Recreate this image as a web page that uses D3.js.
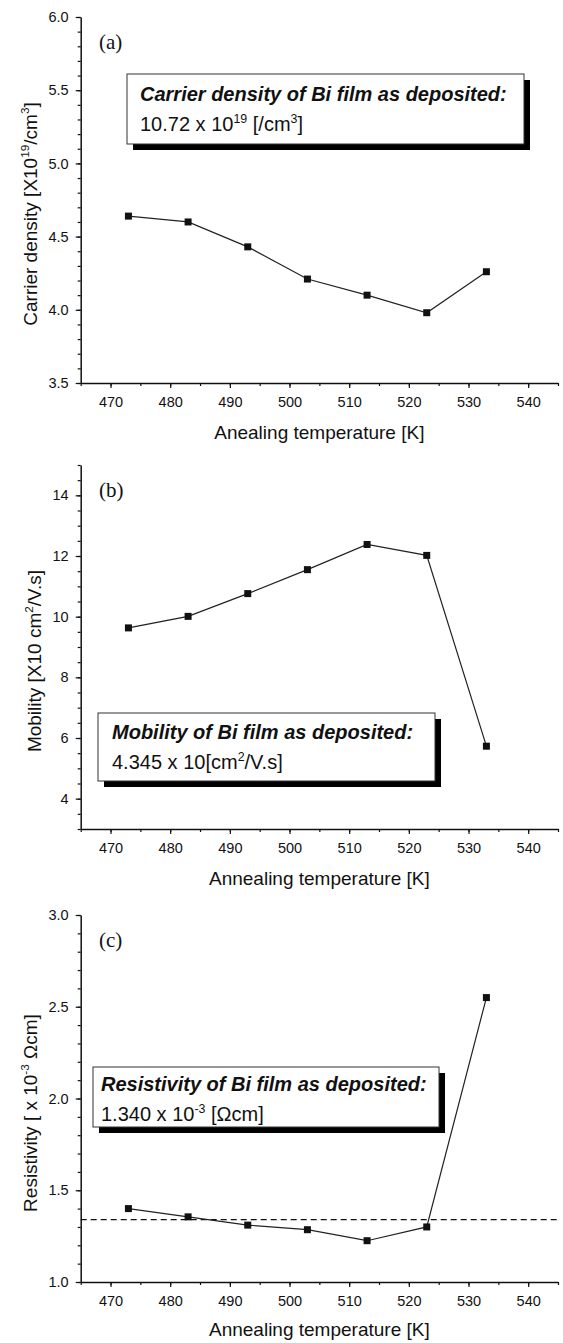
<!DOCTYPE html>
<html>
<head>
<meta charset="utf-8">
<script src="https://cdn.jsdelivr.net/npm/d3@7"></script>
<style>
  body { margin: 0; background: #fff; }
  text { font-family: "Liberation Sans", Arial, Helvetica, sans-serif; fill: #111; }
</style>
</head>
<body>
<div id="chart"></div>
<script>
// valores
var temps = [473, 483, 493, 503, 513, 523, 533];
var xTicks = [470, 480, 490, 500, 510, 520, 530, 540];

var carrierDensity = [4.64, 4.60, 4.43, 4.21, 4.10, 3.98, 4.26];
var carrierTicks = [3.5, 4.0, 4.5, 5.0, 5.5, 6.0];

var mobility = [9.63, 10.01, 10.76, 11.55, 12.38, 12.02, 5.73];
var mobilityTicks = [4, 6, 8, 10, 12, 14];

var resistivity = [1.40, 1.355, 1.31, 1.285, 1.225, 1.30, 2.55];
var resistivityTicks = [1.0, 1.5, 2.0, 2.5, 3.0];
var resistivityDeposited = 1.340;

var W = 563, H = 1343;

var svg = d3.select("#chart").append("svg")
    .attr("width", W)
    .attr("height", H);

// escala x comun a los tres paneles
var x = d3.scaleLinear().domain([465, 545]).range([80.7, 558]);

// escribe texto con superindices: partes [texto, sup?]
function richText(sel, parts, size) {
  var up = size * 0.42;
  var wasUp = false;
  parts.forEach(function(p) {
    var ts = sel.append("tspan").text(p[0]);
    if (p[1]) {
      ts.attr("dy", -up).style("font-size", (size * 0.62) + "px");
    } else if (wasUp) {
      ts.attr("dy", up);
    }
    wasUp = !!p[1];
  });
}

function drawPanel(o) {
  var y = d3.scaleLinear().domain(o.yDomain).range(o.yRange);
  var g = svg.append("g");
  var y0 = o.yRange[0];

  // ticks menores
  g.append("g")
      .attr("transform", "translate(0," + y0 + ")")
      .call(d3.axisBottom(x).tickValues(d3.range(465, 546, 5)).tickSize(3).tickFormat(""))
      .call(function(a) { a.select(".domain").remove(); });
  g.append("g")
      .attr("transform", "translate(" + x.range()[0] + ",0)")
      .call(d3.axisLeft(y).tickValues(o.yMinor).tickSize(3).tickFormat(""))
      .call(function(a) { a.select(".domain").remove(); });

  // ejes principales
  g.append("g")
      .attr("transform", "translate(0," + y0 + ")")
      .call(d3.axisBottom(x).tickValues(xTicks).tickSize(5).tickSizeOuter(0).tickPadding(9));
  g.append("g")
      .attr("transform", "translate(" + x.range()[0] + ",0)")
      .call(d3.axisLeft(y).tickValues(o.yTicks).tickSize(5).tickSizeOuter(0).tickPadding(7)
            .tickFormat(o.yFormat));
  g.selectAll(".tick line").attr("stroke", "#111").attr("stroke-width", 1.2);
  g.selectAll(".domain").attr("stroke", "#111").attr("stroke-width", 1.5);
  g.selectAll(".tick text")
      .style("font-family", "'Liberation Sans', Arial, sans-serif")
      .style("font-size", "14.5px")
      .attr("fill", "#000");

  // titulo eje x
  g.append("text")
      .attr("x", (x.range()[0] + x.range()[1]) / 2)
      .attr("y", y0 + o.titleGap)
      .attr("text-anchor", "middle")
      .style("font-size", "19px")
      .text(o.xTitle);

  // titulo eje y
  var yt = g.append("text")
      .attr("transform", "translate(" + o.yTitleX + "," + o.yTitleY + ") rotate(-90)")
      .attr("text-anchor", "middle")
      .attr("dy", "0.35em")
      .style("font-size", "19px");
  richText(yt, o.yTitle, 19);

  // letra del panel
  g.append("text")
      .attr("x", 99)
      .attr("y", o.letterY)
      .style("font-family", "'Liberation Serif', 'Times New Roman', serif")
      .style("font-size", "21px")
      .text(o.letter);

  // linea de referencia
  if (o.refValue != null) {
    g.append("line")
        .attr("x1", x.range()[0]).attr("x2", x.range()[1])
        .attr("y1", y(o.refValue)).attr("y2", y(o.refValue))
        .attr("stroke", "#111")
        .attr("stroke-width", 1.1)
        .attr("stroke-dasharray", "6,4");
  }

  // cuadro de anotacion con sombra
  var b = o.box;
  g.append("rect")
      .attr("x", b.x + 6).attr("y", b.y + 6)
      .attr("width", b.w).attr("height", b.h)
      .attr("fill", "#000");
  g.append("rect")
      .attr("x", b.x).attr("y", b.y)
      .attr("width", b.w).attr("height", b.h)
      .attr("fill", "#fff")
      .attr("stroke", "#333")
      .attr("stroke-width", 1);
  g.append("text")
      .attr("x", b.tx).attr("y", b.b1)
      .style("font-size", "20px")
      .style("font-weight", "bold")
      .style("font-style", "italic")
      .text(o.boxTitle);
  var l2 = g.append("text")
      .attr("x", b.tx).attr("y", b.b2)
      .style("font-size", "20px");
  richText(l2, o.boxValue, 20);

  // serie
  var pts = temps.map(function(t, i) { return [t, o.values[i]]; });
  var line = d3.line()
      .x(function(d) { return x(d[0]); })
      .y(function(d) { return y(d[1]); });
  g.append("path")
      .datum(pts)
      .attr("d", line)
      .attr("fill", "none")
      .attr("stroke", "#222")
      .attr("stroke-width", 1.2);
  g.selectAll(".pt")
      .data(pts)
    .enter().append("rect")
      .attr("class", "pt")
      .attr("x", function(d) { return x(d[0]) - 3.5; })
      .attr("y", function(d) { return y(d[1]) - 3.5; })
      .attr("width", 7)
      .attr("height", 7)
      .attr("fill", "#111");
}

// (a) densidad de portadores
drawPanel({
  values: carrierDensity,
  yDomain: [3.5, 6.0], yRange: [383, 17],
  yTicks: carrierTicks, yMinor: d3.ticks(3.5, 6.0, 25), yFormat: d3.format(".1f"),
  xTitle: "Anealing temperature [K]", titleGap: 56,
  yTitle: [["Carrier density [X10"], ["19", 1], ["/cm"], ["3", 1], ["]"]],
  yTitleX: 30, yTitleY: 214,
  letter: "(a)", letterY: 49,
  box: {x: 127, y: 74, w: 397, h: 70, tx: 140, b1: 101, b2: 131},
  boxTitle: "Carrier density of Bi film as deposited:",
  boxValue: [["10.72 x 10"], ["19", 1], [" [/cm"], ["3", 1], ["]"]]
});

// (b) movilidad
drawPanel({
  values: mobility,
  yDomain: [3, 15], yRange: [829, 465],
  yTicks: mobilityTicks, yMinor: d3.ticks(3, 15, 24), yFormat: d3.format("d"),
  xTitle: "Annealing temperature [K]", titleGap: 56,
  yTitle: [["Mobility [X10 cm"], ["2", 1], ["/V.s]"]],
  yTitleX: 34, yTitleY: 661,
  letter: "(b)", letterY: 497,
  box: {x: 98, y: 713, w: 337, h: 68, tx: 112, b1: 739, b2: 769},
  boxTitle: "Mobility of Bi film as deposited:",
  boxValue: [["4.345 x 10[cm"], ["2", 1], ["/V.s]"]]
});

// (c) resistividad
drawPanel({
  values: resistivity,
  yDomain: [1.0, 3.0], yRange: [1282, 915],
  yTicks: resistivityTicks, yMinor: d3.ticks(1, 3, 20), yFormat: d3.format(".1f"),
  xTitle: "Annealing temperature [K]", titleGap: 54,
  yTitle: [["Resistivity [ x 10"], ["-3", 1], [" \u03A9cm]"]],
  yTitleX: 30, yTitleY: 1113,
  letter: "(c)", letterY: 947,
  refValue: resistivityDeposited,
  box: {x: 93, y: 1067, w: 346, h: 60, tx: 101, b1: 1091, b2: 1121},
  boxTitle: "Resistivity of Bi film as deposited:",
  boxValue: [["1.340 x 10"], ["-3", 1], [" [\u03A9cm]"]]
});
</script>
</body>
</html>
